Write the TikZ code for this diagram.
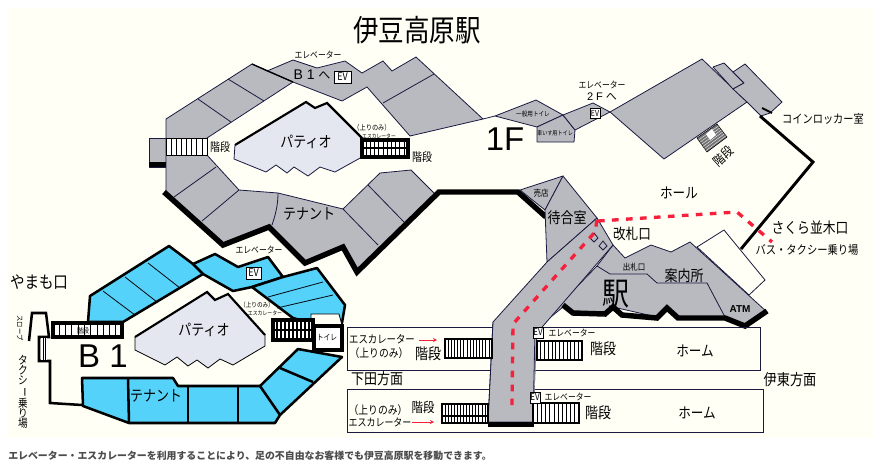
\documentclass[tikz,border=0pt]{standalone}
\usepackage{fontspec}
\usepackage{graphicx}
\usetikzlibrary{arrows.meta,calc}
\setmainfont[FakeStretch=0.85]{Noto Sans CJK JP}
\newfontfamily\plainjp{Noto Sans CJK JP}
\newfontfamily\latinf{Liberation Sans}
\definecolor{ivory}{HTML}{FFFFF6}
\definecolor{grayfl}{HTML}{B9BAC0}
\definecolor{bluefl}{HTML}{55D2F9}
\definecolor{patiofl}{HTML}{E4E6F0}
\definecolor{navy}{HTML}{1A1A40}
\definecolor{redl}{HTML}{F5203C}
\newcommand\fz[1]{\fontsize{\dimexpr #1pt*882/1000\relax}{\dimexpr #1pt*9/10\relax}\selectfont}
\newcommand\fy[1]{\fontsize{\dimexpr #1pt*3/4\relax}{\dimexpr #1pt*9/10\relax}\selectfont}
\newcommand\vbar{\rotatebox[origin=c]{-90}{ー}}
\tikzset{
  x=0.75pt,y=-0.75pt,
  lab/.style={inner sep=0pt,font=\fz{#1}},
  gfl/.style={fill=grayfl,draw=navy,line width=0.6pt,line join=round},
  bfl/.style={fill=bluefl,draw=black,line width=1.9pt,line join=round},
  thin div/.style={draw=navy,line width=0.6pt},
  bthin/.style={draw=black!80!navy,line width=0.6pt},
  thk/.style={draw=black,line width=4.1pt,line join=miter},
  bthk/.style={draw=black,line width=1.9pt},
  evbox/.style={draw=black,fill=white,line width=0.6pt,inner sep=0pt,font=\fz{9}},
  redpath/.style={draw=redl,line width=2.5pt,dash pattern=on 5pt off 5.5pt},
  redarrow/.style={draw=redl,line width=0.7pt,-{Stealth[length=3pt,width=3pt]}},
  frame/.style={draw=navy,line width=0.75pt},
  stairfr/.style={draw=black,fill=white,line width=#1},
  stairln/.style={draw=black,line width=0.5pt}
}
% x1 y1 x2 y2 n framewidth
\newcommand\stairs[6]{%
  \draw[stairfr=#6] (#1,#2) rectangle (#3,#4);
  \foreach \i in {1,...,#5}{\draw[stairln] ({#1+(#3-#1)*\i/(#5+1)},#2) -- ({#1+(#3-#1)*\i/(#5+1)},#4);}
}
\begin{document}
\begin{tikzpicture}
\useasboundingbox (0,0) rectangle (881,469);
\fill[white] (0,0) rectangle (881,469);
\fill[ivory] (8,8) rectangle (873,438);

% ===== 1F ring =====
\filldraw[gfl] (149,138) -- (166,138) -- (166,167) -- (149,167) -- cycle;
\draw[thk] (149,164.5) -- (166,164.5);
\filldraw[gfl] (166,119) -- (252,64) -- (267,71) -- (293,60) -- (317,68) -- (345,61) -- (362,73) -- (383,61) -- (392,71) -- (416,57) -- (483,119) -- (410,136) -- (367,87) -- (342,101) -- (293,82) -- (207,138) -- (207,155) -- (239,190) -- (278,193) -- (343,209) -- (380,173) -- (411,170) -- (435,194) -- (357,272) -- (343,247) -- (305,263) -- (269,227) -- (223,245) -- (165,193) -- (166,193) -- cycle;
\draw[thin div] (228,79) -- (264,101);
\draw[thin div] (198,99) -- (231,122);
\draw[thin div] (267,71) -- (293,82);
\draw[thin div] (434,74) -- (383,103);
\draw[thin div] (216,167) -- (174,197);
\draw[thin div] (239,190) -- (202,221);
\draw[thin div] (278,193) .. controls (278,206) and (275,216) .. (272,225);
\draw[thin div] (343,209) -- (378,245);
\draw[thin div] (368,185) -- (404,222);
\draw[draw=black,line width=1pt] (252,64) -- (293,82);
\draw[thk] (164,192) -- (223,245) -- (269,227) -- (305,263) -- (343,247) -- (357,272) -- (439,192) -- (518,192) -- (546,217);
\stairs{166}{138}{207}{155}{7}{0.6pt}
\draw[thin div] (483,119) -- (495,116);

% Patio 1F
\filldraw[fill=patiofl,draw=navy,line width=0.6pt] (235,145) -- (306,102) -- (315,108) -- (327,103) -- (362,138) -- (362,157) -- (335,172) -- (320,167) -- (308,176) -- (294,167) -- (287,173) -- (276,165) -- (266,172) -- (234,159) -- cycle;
\draw[draw=black,line width=1.6pt] (235,145) -- (306,102) -- (315,108) -- (327,103) -- (362,138);
% Escalator 1F
\draw[draw=black,fill=white,line width=2.4pt] (362,140) rectangle (408,157);
\draw[draw=black,line width=1.6pt] (362,148) -- (408,148);
\foreach \k in {1,...,10}{\draw[stairln,line width=0.7pt] ({362+\k*4.2},140) -- ({362+\k*4.2},157);}

% ===== east upper rooms =====
\filldraw[gfl] (495,116) -- (536,100) -- (563,115) -- (537,127) -- cycle;
\filldraw[gfl] (537,127) -- (563,115) -- (575,130) -- (574,142) -- (537,142) -- cycle;
\filldraw[gfl] (563,115) -- (593,103) -- (610,112) -- (575,130) -- cycle;
\filldraw[gfl] (610,112) -- (702,59) -- (747,102) -- (664,159) -- cycle;
\filldraw[gfl] (713,67) -- (724,63) -- (744,83) -- (733,89) -- cycle;
\filldraw[gfl] (733,72) -- (745,64) -- (782,102) -- (770,113) -- (761,116) -- (747,102) -- (733,89) -- (744,83) -- cycle;
\draw[draw=black,line width=1.4pt] (762,108) -- (772,113);
\draw[draw=black,line width=2.2pt,line join=miter] (760,116) -- (813,162) -- (741,249);
% small stair
\filldraw[fill=black!55,draw=black,line width=0.4pt] (697,138) -- (717,124) -- (727,137) -- (707,152) -- cycle;
\foreach \k in {0.15,0.3,0.45,0.6,0.75,0.9}{\draw[white,line width=0.25pt] ($(697,138)!\k!(707,152)$) -- ($(717,124)!\k!(727,137)$);}
\fill[white] (706,134) -- (712,129) -- (716,135) -- (710,140) -- cycle;

% ===== station =====
\filldraw[gfl] (613,245) -- (625,258) -- (651,245) -- (671,252) -- (690,242) -- (767,312) -- (745,327) -- (725,317) -- (678,317) -- (667,307) -- (657,317) -- (613,307) -- (605,313) -- (573,313) -- (563,307) -- (535,330) -- (597,266) -- cycle;
\filldraw[fill=ivory,draw=navy,line width=0.6pt] (697,247) -- (724,230) -- (765,280) -- (749,295) -- cycle;
\draw[thin div] (597,266) -- (610,274) -- (647,274) -- (657,283) -- (707,283) -- (725,317);
\filldraw[gfl] (520,190) -- (563,176) -- (545,210) -- cycle;
\filldraw[gfl] (563,176) -- (597,218) -- (547,262) -- (545,210) -- cycle;
\filldraw[gfl] (597,218) -- (613,245) -- (537,333) -- (535,370) -- (533,422) -- (488,422) -- (493,322) -- (547,262) -- cycle;
\draw[thk] (563,305) -- (573,313) -- (605,314) -- (613,307) -- (622,315) -- (657,318) -- (667,308) -- (678,318) -- (725,318) -- (745,326) -- (767,311);
\filldraw[fill=grayfl,draw=navy,line width=0.6pt] (594,233) -- (598,238) -- (594,242) -- (590,238) -- cycle;
\filldraw[fill=grayfl,draw=navy,line width=0.6pt] (603,241) -- (607,246) -- (603,250) -- (599,246) -- cycle;

% ===== platforms =====
\draw[frame] (347,327) rectangle (760,370);
\draw[frame] (347,389) rectangle (763,432);
% re-fill corridor over the frames
\fill[grayfl] (493.5,322) -- (535.5,322) -- (535.5,370) -- (533,421) -- (488.5,421) -- cycle;
\draw[navy,line width=0.6pt] (493,322) -- (488,422);
\draw[navy,line width=0.6pt] (535,330) -- (533,422);
\draw[thk] (488,424.5) -- (534,424.5);
\stairs{445}{339}{492}{358}{14}{1.3pt}
\stairs{537}{341}{582}{360}{11}{1.5pt}
\stairs{442}{404}{488}{423}{14}{1.3pt}
\draw[draw=black,line width=0.8pt] (442,416) -- (488,416);
\stairs{533}{403}{579}{423}{10}{1.7pt}
\draw[redarrow] (419,340) -- (437,340);
\draw[redarrow] (412,422) -- (434,422);

% Red route
\draw[redpath] (598,221) -- (737,212) -- (772,242);
\draw[redpath] (597,220) -- (595,232) -- (513,324) -- (512,405);

% ===== B1 =====
\filldraw[bfl] (90,296) -- (169,246) -- (193,264) -- (215,254) -- (238,267) -- (268,257) -- (283,277) -- (252,287) -- (233,291) -- (203,274) -- (123,322) -- (88,322) -- cycle;
\filldraw[bfl] (252,287) -- (283,277) -- (317,268) -- (345,305) -- (342,323) -- (311,323) -- (293,318) -- cycle;
\filldraw[bfl] (298,349) -- (342,357) -- (280,415) -- (275,423) -- (129,423) -- (83,406) -- (82,378) -- (173,378) -- (178,386) -- (260,386) -- cycle;
\draw[bthin] (148,263) -- (180,288);
\draw[bthin] (125,277) -- (157,302);
\draw[bthin] (103,291) -- (135,315);
\draw[bthin] (268,297) -- (323,282);
\draw[bthin] (277,308) -- (333,295);
\draw[bthk] (193,264) -- (203,274);
\draw[bthk] (128,378) -- (129,423);
\draw[bthk] (188,386) -- (188,423);
\draw[bthk] (238,386) -- (238,423);
\draw[bthk] (260,386) -- (280,415);
\draw[bthk] (280,368) -- (313,382);
\filldraw[fill=ivory,draw=black,line width=0.6pt] (311,314) -- (339,314) -- (342,325) -- (311,325) -- cycle;
\draw[draw=black,fill=white,line width=2.4pt] (314,326) rectangle (342,350);
\draw[draw=black,fill=white,line width=2.4pt] (273,320) rectangle (313,340);
\draw[draw=black,line width=2pt] (273,330) -- (313,330);
\foreach \k in {1,...,9}{\draw[draw=black,line width=0.8pt] ({273+\k*4},320) -- ({273+\k*4},340);}
\stairs{53}{323}{122}{337}{10}{2.4pt}
% Patio B1
\filldraw[fill=patiofl,draw=black,line width=0.6pt] (135,337) -- (207,292) -- (215,300) -- (228,294) -- (265,335) -- (265,346) -- (233,365) -- (220,359) -- (208,368) -- (197,360) -- (188,366) -- (177,357) -- (165,365) -- (135,350) -- cycle;
\draw[draw=black,line width=1.6pt] (135,337) -- (207,292) -- (215,300) -- (228,294) -- (265,335);
% slope
\draw[draw=black,line width=1.9pt,line join=miter] (29,341) -- (32,313) -- (46,313) -- (49,337) -- (39,337) -- (39,361) -- (50,361) -- (50,403) -- (82,405);
\fill[white] (41,338) rectangle (47,360);
\draw[draw=black,line width=0.5pt] (43,338) -- (43,360);
\draw[draw=black,line width=0.5pt] (45,338) -- (45,360);

% ===== labels =====
\node[lab=25.5] (title) at (417,30) {伊豆高原駅};
\node[lab=7.8] (ev1) at (318,55) {エレベーター};
\node[lab=11,font=\latinf\fy{14}] (b1to) at (312,75) {B 1 {\plainjp\fy{12}へ}};
\node[evbox,minimum width=17*0.75pt,minimum height=12*0.75pt] (evA) at (342.5,77) {EV};
\node[lab=13] (patio1) at (306,142) {パティオ};
\node[lab=10] (kai1) at (220,147) {階段};
\node[lab=6.2] (up1) at (372,128) {（上りのみ）};
\node[lab=4.8] (esc1) at (379,136) {エスカレーター};
\node[lab=10] (kai2) at (422,157) {階段};
\node[lab=13] (ten1) at (309,214) {テナント};
\node[lab=7.8] (ev2) at (259,250) {エレベーター};
\node[evbox,minimum width=15*0.75pt,minimum height=12*0.75pt] (evB) at (253.5,273) {EV};
\node[lab=31,font=\latinf\fy{33}] (onef) at (505,139) {1F};
\node[lab=5.6] (toil1) at (533,114) {一般用トイレ};
\node[lab=5.1] (toil2) at (555,133) {車いす用トイレ};
\node[lab=7.8] (ev3) at (602,85) {エレベーター};
\node[lab=10,font=\latinf\fy{11}] (twof) at (602,97) {2 F {\plainjp\fy{11}へ}};
\node[evbox,minimum width=10*0.75pt,minimum height=10*0.75pt,font=\fz{7}] (evC) at (595,113) {EV};
\node[lab=10.2] (coin) at (823,119) {コインロッカー室};
\node[lab=11,rotate=42] (kai3) at (723,156) {階段};
\node[lab=12.6] (hall) at (679,193) {ホール};
\node[lab=7.5] (shop) at (541,193) {売店};
\node[lab=13] (wait) at (567,218) {待合室};
\node[lab=12.6] (gate) at (632,234) {改札口};
\node[lab=7.5] (exitg) at (634,267) {出札口};
\node[lab=13] (info) at (684,276) {案内所};
\node[lab=27] (eki) at (616,294) {駅};
\node[lab=9,font=\latinf\fy{10}\bfseries] (atm) at (740,309) {ATM};
\node[lab=12.8] (saku) at (810,228) {さくら並木口};
\node[lab=10.3] (bus) at (807,250) {バス・タクシー乗り場};
\node[lab=14.5] (yama) at (39,282) {やまも口};
\node[lab=6.3,rotate=-90] (slope) at (20,328) {スロープ};
\node[lab=10,align=center,font=\fontsize{8.5pt}{7.5pt}\selectfont] (taxi) at (23,392) {タ\\ク\\シ\\\vbar\\乗\\り\\場};
\node[lab=6] (kai4) at (83,331) {階段};
\node[lab=13] (patio2) at (204,330) {パティオ};
\node[lab=5.6] (up2) at (257,305) {（上りのみ）};
\node[lab=4.9] (esc2) at (265,313) {エスカレーター};
\node[lab=6.8] (toil3) at (327,337) {トイレ};
\node[lab=32,font=\latinf\fy{33}] (b1) at (103,356) {B 1};
\node[lab=13] (ten2) at (156,396) {テナント};
\node[lab=9.4] (e1) at (382,339) {エスカレーター};
\node[lab=9.8] (u1) at (379,353) {（上りのみ）};
\node[lab=13] (k1) at (428,354) {階段};
\node[evbox,minimum width=10*0.75pt,minimum height=11*0.75pt,font=\fz{8}] (evD) at (538,332.5) {EV};
\node[lab=7.8] (ev5) at (572,333) {エレベーター};
\node[lab=13] (k2) at (603,349) {階段};
\node[lab=12.6] (h1) at (695,351) {ホーム};
\node[lab=13] (shim) at (377,379) {下田方面};
\node[lab=13.2] (ito) at (790,380) {伊東方面};
\node[lab=11.5] (k3) at (423,407) {階段};
\node[lab=9.8] (u2) at (378,410) {（上りのみ）};
\node[lab=9] (e2) at (380,422) {エスカレーター};
\node[evbox,minimum width=10*0.75pt,minimum height=11*0.75pt,font=\fz{8}] (evE) at (535,397.5) {EV};
\node[lab=7.8] (ev6) at (568,397) {エレベーター};
\node[lab=13] (k4) at (598,413) {階段};
\node[lab=12.6] (h2) at (697,413) {ホーム};
\node[lab=9.9,anchor=west,text=black!70,font=\plainjp\fy{9.9}\bfseries] (foot) at (8,456) {エレベーター・エスカレーターを利用することにより、足の不自由なお客様でも伊豆高原駅を移動できます。};
\end{tikzpicture}
\end{document}
